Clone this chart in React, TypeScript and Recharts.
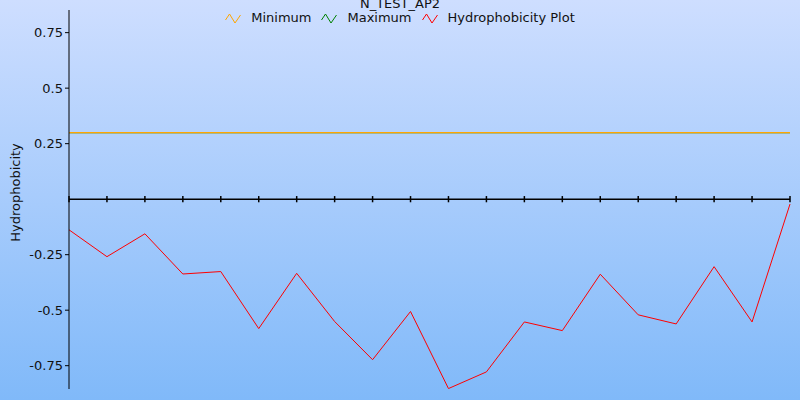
import React from "react";
import {
  LineChart,
  Line,
  XAxis,
  YAxis,
  ReferenceLine,
} from "recharts";

const residues = ["1", "2", "3", "4", "5", "6", "7", "8", "9", "10", "11", "12", "13", "14", "15", "16", "17", "18", "19", "20"];
const hydrophobicity = [-0.138, -0.259, -0.156, -0.337, -0.326, -0.583, -0.334, -0.551, -0.723, -0.506, -0.853, -0.778, -0.553, -0.592, -0.338, -0.521, -0.562, -0.304, -0.553, -0.022];
const minimum = [0.3, 0.3, 0.3, 0.3, 0.3, 0.3, 0.3, 0.3, 0.3, 0.3, 0.3, 0.3, 0.3, 0.3, 0.3, 0.3, 0.3, 0.3, 0.3, 0.3];
const maximum = [0.3, 0.3, 0.3, 0.3, 0.3, 0.3, 0.3, 0.3, 0.3, 0.3, 0.3, 0.3, 0.3, 0.3, 0.3, 0.3, 0.3, 0.3, 0.3, 0.3];
const yTicks = [-0.75, -0.5, -0.25, 0.25, 0.5, 0.75];

const series = [
  { name: "Minimum", color: "#ffa500" },
  { name: "Maximum", color: "#008000" },
  { name: "Hydrophobicity Plot", color: "#ff0000" },
];

const data = residues.map((r, i) => ({
  residue: r,
  min: minimum[i],
  max: maximum[i],
  hydro: hydrophobicity[i],
}));

const font = "'DejaVu Sans', sans-serif";

function LegendIcon({ color }: { color: string }) {
  return (
    <svg width={16} height={11} style={{ display: "block" }}>
      <polyline points="0.5,7 4.5,1 10,10 15.5,2" fill="none" stroke={color} strokeWidth={1} />
    </svg>
  );
}

export default function App() {
  return (
    <div
      style={{
        position: "fixed",
        left: 0,
        top: 0,
        width: 800,
        height: 400,
        background: "linear-gradient(to bottom, #cedeff 0%, #80b9f9 100%)",
        fontFamily: font,
        overflow: "hidden",
      }}
    >
      <LineChart
        width={800}
        height={400}
        data={data}
        margin={{ top: 10, right: 10, left: 0, bottom: 11 }}
      >
        <XAxis dataKey="residue" hide />
        <YAxis
          type="number"
          domain={[-0.855, 0.852]}
          allowDataOverflow
          ticks={yTicks}
          width={69}
          stroke="#000"
          tickSize={4}
          tickMargin={2}
          tick={{ fill: "#111", fontSize: 13, fontFamily: font }}
          label={{
            value: "Hydrophobicity",
            angle: -90,
            position: "insideLeft",
            offset: 15,
            dy: -7,
            style: { textAnchor: "middle", fill: "#111", fontSize: 13, fontFamily: font },
          }}
        />
        <ReferenceLine y={0} stroke="#000" strokeWidth={1.5} />
        {residues.map((r) => (
          <ReferenceLine
            key={r}
            segment={[
              { x: r, y: -0.014 },
              { x: r, y: 0.014 },
            ]}
            stroke="#000"
            strokeWidth={1.5}
          />
        ))}
        <Line
          dataKey="max"
          stroke={series[1].color}
          strokeWidth={1.2}
          dot={false}
          isAnimationActive={false}
        />
        <Line
          dataKey="min"
          stroke={series[0].color}
          strokeWidth={1.2}
          dot={false}
          isAnimationActive={false}
        />
        <Line
          dataKey="hydro"
          type="linear"
          stroke={series[2].color}
          strokeWidth={1}
          dot={false}
          isAnimationActive={false}
        />
      </LineChart>

      <div
        style={{
          position: "absolute",
          left: 0,
          top: -4,
          width: 800,
          textAlign: "center",
          fontSize: 13,
          color: "#111",
          lineHeight: "16px",
        }}
      >
        N_TEST_AP2
      </div>
      <div
        style={{
          position: "absolute",
          left: 0,
          top: 10,
          width: 800,
          display: "flex",
          justifyContent: "center",
          alignItems: "center",
          fontSize: 13,
          color: "#111",
          lineHeight: "16px",
        }}
      >
        {series.map((s, i) => (
          <div
            key={s.name}
            style={{ display: "flex", alignItems: "center", marginLeft: i === 0 ? 0 : 10 }}
          >
            <LegendIcon color={s.color} />
            <span style={{ marginLeft: 10 }}>{s.name}</span>
          </div>
        ))}
      </div>
    </div>
  );
}
